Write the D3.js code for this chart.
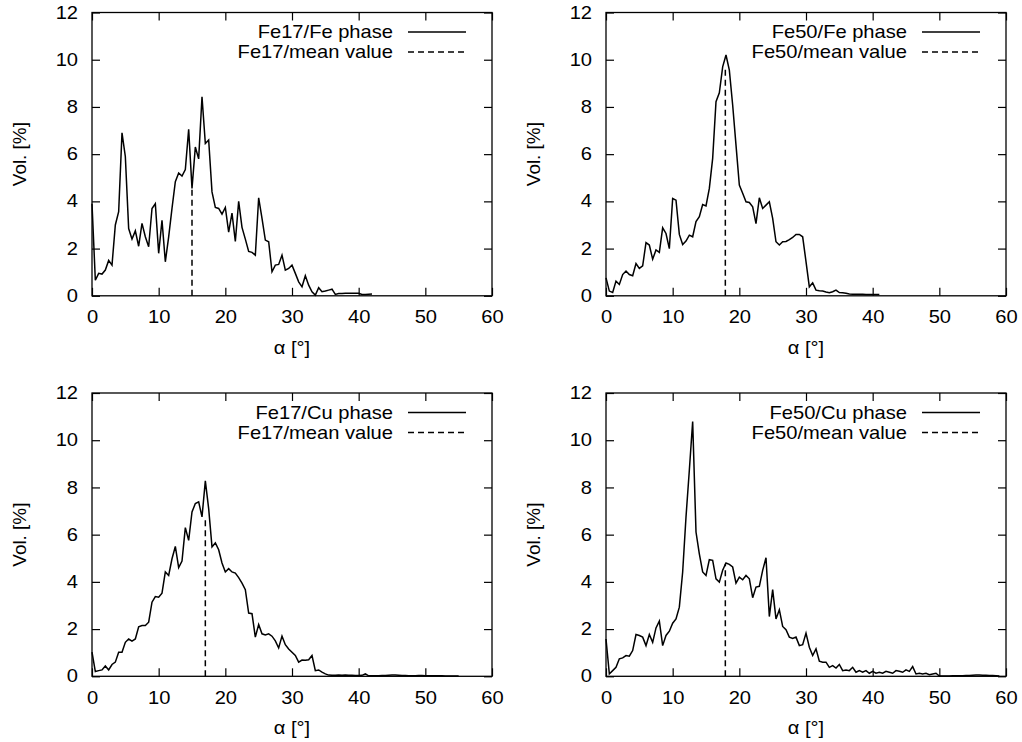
<!DOCTYPE html>
<html>
<head>
<meta charset="utf-8">
<script src="https://cdn.jsdelivr.net/npm/d3@7"></script>
<style>
  body { margin: 0; background: #fff; }
  svg { display: block; font-family: "Liberation Sans", Arial, sans-serif; }
</style>
</head>
<body>
<svg id="chart" width="1022" height="742"></svg>
<script>
// [angle in degrees, volume fraction in %]
const fe17Fe = [[0,3.9],[0.5,0.66],[1,0.95],[1.5,0.92],[2,1.09],[2.5,1.5],[3,1.3],[3.5,3.0],[4,3.56],[4.5,6.9],
  [5,5.9],[5.5,2.85],[6,2.4],[6.5,2.75],[7,2.1],[7.5,3.07],[8,2.5],[8.5,2.08],[9,3.7],[9.5,3.9],
  [10,1.8],[10.5,3.2],[11,1.44],[11.5,2.5],[12,3.7],[12.5,4.83],[13,5.2],[13.5,5.07],[14,5.35],[14.5,7.05],
  [15,4.55],[15.5,6.3],[16,5.8],[16.5,8.43],[17,6.45],[17.5,6.6],[18,4.4],[18.5,3.74],[19,3.7],[19.5,3.46],
  [20,3.74],[20.5,2.7],[21,3.5],[21.5,2.3],[22,4.0],[22.5,2.9],[23,2.4],[23.5,1.88],[24,1.84],[24.5,1.72],
  [25,4.15],[25.5,3.28],[26,2.36],[26.5,2.29],[27,1.02],[27.5,1.3],[28,1.33],[28.5,1.72],[29,1.09],[29.5,1.16],
  [30,1.3],[30.5,0.95],[31,0.59],[31.5,0.38],[32,0.85],[32.5,0.45],[33,0.17],[33.5,0.03],[34,0.34],[34.5,0.17],
  [35,0.2],[35.5,0.24],[36,0.28],[36.5,0.06],[37,0.1],[37.5,0.1],[38,0.11],[38.5,0.11],[39,0.11],[39.5,0.11],
  [40,0.11],[40.5,0.06],[41,0.06],[41.5,0.07],[42,0.08]];

const fe50Fe = [[0,0.76],[0.5,0.2],[1,0.14],[1.5,0.62],[2,0.48],[2.5,0.9],[3,1.05],[3.5,0.9],[4,0.85],[4.5,1.37],
  [5,1.16],[5.5,1.27],[6,2.25],[6.5,2.15],[7,1.55],[7.5,1.94],[8,1.84],[8.5,2.88],[9,2.64],[9.5,2.0],
  [10,4.12],[10.5,4.05],[11,2.6],[11.5,2.17],[12,2.32],[12.5,2.57],[13,2.5],[13.5,3.14],[14,3.35],[14.5,3.87],
  [15,3.81],[15.5,4.55],[16,5.82],[16.5,8.22],[17,8.6],[17.5,9.7],[18,10.2],[18.5,9.56],[19,8.08],[19.5,6.38],
  [20,4.69],[20.5,4.34],[21,3.98],[21.5,3.95],[22,3.77],[22.5,3.06],[23,4.15],[23.5,3.7],[24,3.84],[24.5,3.98],
  [25,3.28],[25.5,2.29],[26,2.15],[26.5,2.29],[27,2.3],[27.5,2.38],[28,2.47],[28.5,2.6],[29,2.6],[29.5,2.5],
  [30,1.45],[30.5,0.38],[31,0.55],[31.5,0.24],[32,0.21],[32.5,0.2],[33,0.16],[33.5,0.13],[34,0.17],[34.5,0.24],
  [35,0.14],[35.5,0.13],[36,0.11],[36.5,0.08],[37,0.07],[37.5,0.07],[38,0.07],[38.5,0.07],[39,0.06],[39.5,0.06],
  [40,0.06],[40.5,0.05],[41,0.05]];

const fe17Cu = [[0,1.02],[0.5,0.2],[1,0.24],[1.5,0.27],[2,0.44],[2.5,0.27],[3,0.5],[3.5,0.6],[4,1.02],[4.5,1.02],
  [5,1.44],[5.5,1.58],[6,1.49],[6.5,1.58],[7,2.1],[7.5,2.15],[8,2.15],[8.5,2.29],[9,3.14],[9.5,3.38],
  [10,3.35],[10.5,3.52],[11,4.42],[11.5,4.27],[12,4.98],[12.5,5.5],[13,4.6],[13.5,4.88],[14,6.3],[14.5,5.76],
  [15,6.96],[15.5,7.32],[16,7.39],[16.5,6.75],[17,8.28],[17.5,7.1],[18,5.48],[18.5,5.65],[19,5.36],[19.5,4.8],
  [20,4.42],[20.5,4.56],[21,4.42],[21.5,4.37],[22,4.18],[22.5,3.95],[23,3.67],[23.5,2.68],[24,2.65],[24.5,1.66],
  [25,2.19],[25.5,1.8],[26,1.75],[26.5,1.8],[27,1.7],[27.5,1.5],[28,1.2],[28.5,1.7],[29,1.34],[29.5,1.16],
  [30,1.02],[30.5,0.88],[31,0.6],[31.5,0.69],[32,0.68],[32.5,0.7],[33,0.88],[33.5,0.24],[34,0.27],[34.5,0.18],
  [35,0.1],[35.5,0.05],[36,0.04],[36.5,0.04],[37,0.05],[37.5,0.04],[38,0.05],[38.5,0.04],[39,0.04],[39.5,0.03],
  [40,0.03],[40.5,0.04],[41,0.1],[41.5,0.02],[42,0.02],[42.5,0.02],[43,0.02],[43.5,0.03],[44,0.03],[44.5,0.04],
  [45,0.05],[45.5,0.05],[46,0.04],[46.5,0.03],[47,0.03],[47.5,0.02],[48,0.02],[48.5,0.02],[49,0.03],[49.5,0.03],
  [50,0.02],[50.5,0.02],[51,0.02],[51.5,0.02],[52,0.02],[52.5,0.02],[53,0.01],[53.5,0.01],[54,0.01],[54.5,0.01],
  [55,0.01]];

const fe50Cu = [[0,1.58],[0.5,0.1],[1,0.24],[1.5,0.38],[2,0.74],[2.5,0.78],[3,0.88],[3.5,0.85],[4,1.09],[4.5,1.77],
  [5,1.73],[5.5,1.66],[6,1.3],[6.5,1.77],[7,1.44],[7.5,2.05],[8,2.34],[8.5,1.3],[9,1.73],[9.5,1.91],
  [10,2.25],[10.5,2.43],[11,2.93],[11.5,4.42],[12,6.75],[12.5,8.73],[13,10.79],[13.5,6.11],[14,5.19],[14.5,4.42],
  [15,4.27],[15.5,4.94],[16,4.91],[16.5,4.13],[17,3.99],[17.5,4.49],[18,4.8],[18.5,4.74],[19,4.63],[19.5,3.95],
  [20,4.2],[20.5,4.09],[21,4.27],[21.5,4.13],[22,3.33],[22.5,3.78],[23,3.81],[23.5,4.49],[24,5.02],[24.5,2.53],
  [25,3.67],[25.5,2.43],[26,2.82],[26.5,2.11],[27,1.97],[27.5,1.66],[28,1.6],[28.5,1.66],[29,1.3],[29.5,1.34],
  [30,1.83],[30.5,1.23],[31,0.88],[31.5,1.16],[32,0.64],[32.5,0.6],[33,0.6],[33.5,0.38],[34,0.45],[34.5,0.35],
  [35,0.5],[35.5,0.24],[36,0.27],[36.5,0.24],[37,0.38],[37.5,0.17],[38,0.24],[38.5,0.17],[39,0.24],[39.5,0.13],
  [40,0.21],[40.5,0.13],[41,0.17],[41.5,0.13],[42,0.21],[42.5,0.17],[43,0.13],[43.5,0.24],[44,0.21],[44.5,0.17],
  [45,0.27],[45.5,0.21],[46,0.41],[46.5,0.1],[47,0.13],[47.5,0.1],[48,0.13],[48.5,0.07],[49,0.1],[49.5,0.13],
  [50,0.01],[50.5,0.01],[51,0.01],[51.5,0.01],[52,0.02],[52.5,0.02],[53,0.02],[53.5,0.02],[54,0.03],[54.5,0.03],
  [55,0.04],[55.5,0.05],[56,0.05],[56.5,0.04],[57,0.04],[57.5,0.03],[58,0.03],[58.5,0.02],[59,0.01]];

// mean value markers: [angle, height of dashed line]
const fe17FeMean = [15.0, 4.55];
const fe50FeMean = [17.9, 9.7];
const fe17CuMean = [17.0, 6.7];
const fe50CuMean = [17.9, 4.77];

const seriesLabels = ["Fe17/Fe phase", "Fe50/Fe phase", "Fe17/Cu phase", "Fe50/Cu phase"];
const meanLabels = ["Fe17/mean value", "Fe50/mean value", "Fe17/mean value", "Fe50/mean value"];
const xTicks = [0, 10, 20, 30, 40, 50, 60];
const yTicks = [0, 2, 4, 6, 8, 10, 12];

const panels = [
  { left: 92, top: 12.5, data: fe17Fe, mean: fe17FeMean, label: seriesLabels[0], meanLabel: meanLabels[0] },
  { left: 606, top: 12.5, data: fe50Fe, mean: fe50FeMean, label: seriesLabels[1], meanLabel: meanLabels[1] },
  { left: 92, top: 393, data: fe17Cu, mean: fe17CuMean, label: seriesLabels[2], meanLabel: meanLabels[2] },
  { left: 606, top: 393, data: fe50Cu, mean: fe50CuMean, label: seriesLabels[3], meanLabel: meanLabels[3] }
];

const width = 400;
const height = 283.3;
const fontSize = 17.5;
const stretch = 1.15; // the original lettering is wider than Liberation Sans
const svg = d3.select("#chart");

// widen text along its own direction, keeping its anchor point
function widen(sel) {
  sel.each(function() {
    const t = d3.select(this);
    const x0 = +t.attr("x") || 0;
    t.attr("x", x0 / stretch)
      .attr("transform", (t.attr("transform") || "") + ` scale(${stretch},1)`);
  });
}

panels.forEach(function(p) {
  const g = svg.append("g").attr("transform", `translate(${p.left},${p.top})`);

  const x = d3.scaleLinear().domain([0, 60]).range([0, width]);
  const y = d3.scaleLinear().domain([0, 12]).range([height, 0]);

  g.append("g")
    .attr("transform", `translate(0,${height})`)
    .call(d3.axisBottom(x).tickValues(xTicks).tickSize(-8).tickPadding(15));
  g.append("g")
    .call(d3.axisLeft(y).tickValues(yTicks).tickSize(-8).tickPadding(14));
  g.append("g")
    .call(d3.axisTop(x).tickValues(xTicks).tickSize(-8).tickFormat(""));
  g.append("g")
    .attr("transform", `translate(${width},0)`)
    .call(d3.axisRight(y).tickValues(yTicks).tickSize(-8).tickFormat(""));

  g.selectAll(".domain").remove();
  g.selectAll(".tick line").attr("stroke", "#000").attr("stroke-width", 1.2);
  g.selectAll(".tick text")
    .attr("font-size", fontSize)
    .attr("font-family", "Liberation Sans, Arial, sans-serif")
    .attr("fill", "#000")
    .call(widen);

  g.append("rect")
    .attr("width", width)
    .attr("height", height)
    .attr("fill", "none")
    .attr("stroke", "#000")
    .attr("stroke-width", 1.3);

  const line = d3.line()
    .x(d => x(d[0]))
    .y(d => y(d[1]));

  g.append("path")
    .datum(p.data)
    .attr("d", line)
    .attr("fill", "none")
    .attr("stroke", "#000")
    .attr("stroke-width", 1.5);

  g.append("line")
    .attr("x1", x(p.mean[0]))
    .attr("x2", x(p.mean[0]))
    .attr("y1", y(0))
    .attr("y2", y(p.mean[1]))
    .attr("stroke", "#000")
    .attr("stroke-width", 1.5)
    .attr("stroke-dasharray", "6,4");

  // key
  const rows = [
    { text: p.label, dash: null },
    { text: p.meanLabel, dash: "6,4" }
  ];
  rows.forEach(function(r, i) {
    const ry = 19.5 + i * 20;
    g.append("text")
      .attr("x", width - 99)
      .attr("y", ry)
      .attr("dy", "0.35em")
      .attr("text-anchor", "end")
      .attr("font-size", fontSize)
      .attr("fill", "#000")
      .text(r.text)
      .call(widen);
    g.append("line")
      .attr("x1", width - 84)
      .attr("x2", width - 26)
      .attr("y1", ry)
      .attr("y2", ry)
      .attr("stroke", "#000")
      .attr("stroke-width", 1.5)
      .attr("stroke-dasharray", r.dash);
  });

  g.append("text")
    .attr("x", width / 2)
    .attr("y", height + 52)
    .attr("dy", "0.35em")
    .attr("text-anchor", "middle")
    .attr("font-size", fontSize)
    .attr("fill", "#000")
    .text("α [°]")
    .call(widen);

  g.append("text")
    .attr("transform", `translate(-72,${height / 2}) rotate(-90) scale(1.08,1)`)
    .attr("dy", "0.35em")
    .attr("text-anchor", "middle")
    .attr("font-size", fontSize)
    .attr("fill", "#000")
    .text("Vol. [%]");
});
</script>
</body>
</html>
